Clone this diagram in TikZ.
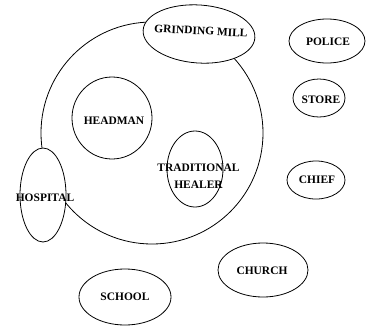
\documentclass[tikz,border=0pt]{standalone}
\usepackage{fontspec}
\setmainfont{Liberation Serif}
\usetikzlibrary{shapes.geometric}

\tikzset{
  place/.style={ellipse,draw,thick,fill=white,inner sep=0pt},
  lbl/.style={font=\fontsize{11.5}{17}\selectfont\bfseries,inner sep=0pt,align=center}
}

\begin{document}
\begin{tikzpicture}[x=1bp,y=-1bp]
\useasboundingbox (0,0) rectangle (367,329);
\node[circle,draw,thick,minimum size=222bp,inner sep=0pt] (village) at (152,133) {};
\node[place,minimum width=112bp,minimum height=58bp,rotate=-4] (mill) at (199,34) {};
\node[place,minimum width=76bp,minimum height=44bp] (police) at (327,41) {};
\node[place,minimum width=52bp,minimum height=38bp] (store) at (319,98) {};
\node[place,minimum width=80bp,minimum height=82bp] (headman) at (112,118) {};
\node[place,minimum width=56bp,minimum height=76bp] (healer) at (195,169) {};
\node[place,minimum width=46bp,minimum height=94bp] (hospital) at (43,195) {};
\node[place,minimum width=58bp,minimum height=38bp] (chief) at (316,180) {};
\node[place,minimum width=90bp,minimum height=54bp] (church) at (263,270) {};
\node[place,minimum width=92bp,minimum height=56bp] (school) at (125,297) {};
\node[lbl,rotate=-3] (milltext) at (201,31) {GRINDING MILL};
\node[lbl] (policetext) at (328,42) {POLICE};
\node[lbl] (storetext) at (321,100) {STORE};
\node[lbl] (headmantext) at (114,121) {HEADMAN};
\node[lbl] (healertext) at (198.5,176) {TRADITIONAL\\HEALER};
\node[lbl] (hospitaltext) at (45,198) {HOSPITAL};
\node[lbl] (chieftext) at (317,180) {CHIEF};
\node[lbl] (churchtext) at (262,271) {CHURCH};
\node[lbl] (schooltext) at (125,297) {SCHOOL};
\end{tikzpicture}
\end{document}
